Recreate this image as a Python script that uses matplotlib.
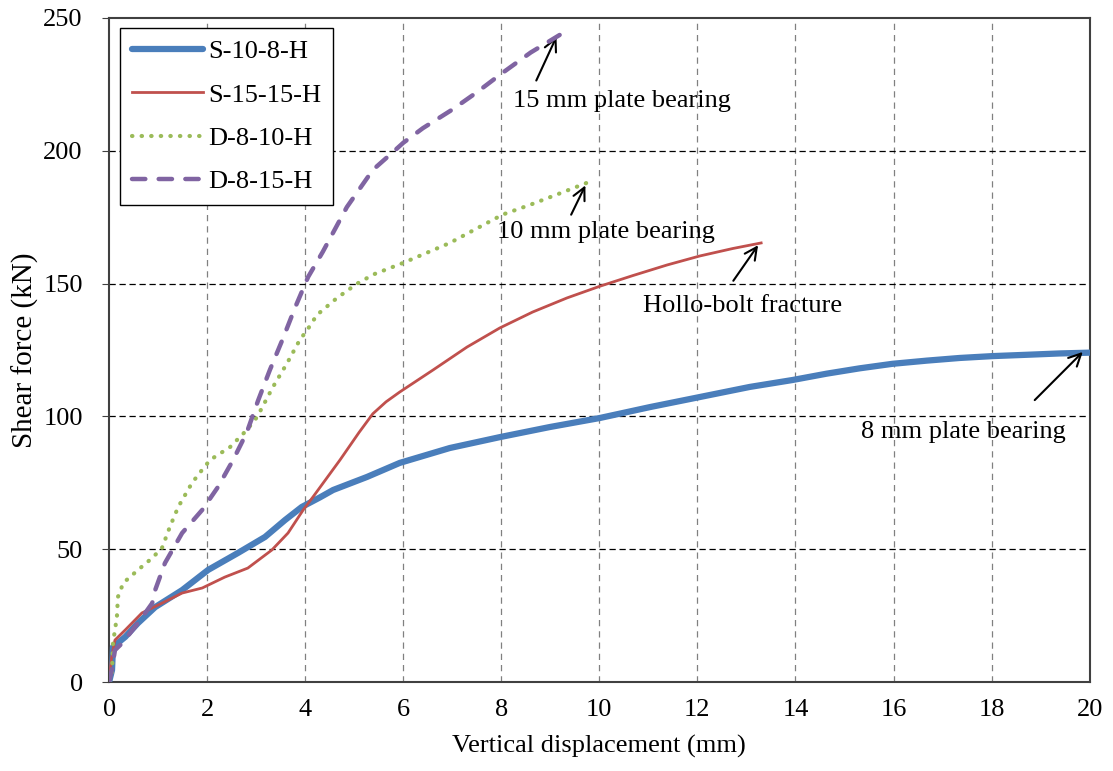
import numpy as np
import matplotlib.pyplot as plt

plt.rcParams['font.family'] = ['Liberation Serif', 'DejaVu Serif']

# load-displacement curves (displacement in mm, shear force in kN)
s10_x = [0, 0.06, 0.08, 0.33, 0.59, 0.94, 1.49, 2.02, 2.63, 3.18, 3.59, 3.93, 4.3,
         4.57, 5.26, 5.93, 6.95, 7.97, 8.99, 10.01, 11.03, 12.05, 13.07, 13.94,
         14.64, 15.31, 15.98, 16.68, 17.35, 18.02, 18.72, 19.39, 20.0]
s10_y = [0, 4.5, 13.2, 17, 22.2, 28.2, 34.6, 42.2, 48.6, 54.6, 61, 65.9, 69.5,
         72.3, 77.2, 82.5, 88.1, 92.2, 96, 99.4, 103.5, 107.3, 111.1, 113.7,
         116.1, 118.1, 119.8, 121, 122, 122.7, 123.2, 123.7, 124]

s15_x = [0, 0.05, 0.12, 0.33, 0.67, 1.08, 1.49, 1.9, 2.36, 2.83, 3.32, 3.65, 3.96,
         4.16, 4.71, 5.1, 5.38, 5.65, 5.93, 6.61, 7.3, 7.97, 8.64, 9.34, 10.01,
         10.68, 11.38, 12.05, 12.72, 13.3]
s15_y = [0, 9, 15.8, 19.6, 26, 29.7, 33.5, 35.4, 39.5, 42.9, 49.7, 56.1, 64.8,
         69.7, 83.6, 94, 101, 105.5, 109.2, 117.5, 126.1, 133.3, 139.3, 144.6, 149,
         153, 157, 160.4, 163.2, 165.3]

d10_x = [0, 0.06, 0.08, 0.16, 0.18, 0.29, 0.59, 0.88, 1.08, 1.24, 1.41, 1.69, 1.86,
         2.06, 2.47, 2.81, 3.02, 3.34, 3.63, 3.89, 4.04, 4.24, 4.65, 5.06, 5.4,
         6.0, 6.95, 8.03, 8.58, 9.2, 9.74]
d10_y = [0, 4, 14.7, 24.5, 32, 37.3, 42.2, 46.7, 50.5, 58.4, 65.9, 74.9, 79,
         83.6, 88.5, 94.9, 99.8, 111, 120, 128.8, 132.5, 138.2, 144.6, 150, 153.5,
         157.8, 165.3, 176, 179.6, 184, 187.9]

d15_x = [0, 0.06, 0.12, 0.27, 0.59, 0.88, 0.94, 1.14, 1.49, 1.9, 2.22, 2.53, 2.81,
         3.04, 3.28, 3.55, 3.79, 4.06, 4.36, 4.85, 5.38, 5.79, 6.0, 6.4, 7.0, 7.5,
         8.0, 8.6, 9.19]
d15_y = [0, 5, 12, 14.7, 22.2, 29.7, 34.6, 44.8, 56.1, 64.8, 73.4, 83.6, 94,
         106, 117.5, 129.5, 140.8, 152.5, 162, 178.8, 192.8, 199.5, 203, 208.5, 215.5, 222,
         229, 237, 243.6]

fig = plt.figure(figsize=(11.13, 7.71), dpi=100)
ax = fig.add_axes([0.098, 0.1154, 0.881, 0.8613])

ax.plot(s10_x, s10_y, color='#4A7EBB', lw=4.5, solid_capstyle='round',
        solid_joinstyle='round', label='S-10-8-H', zorder=3)
ax.plot(s15_x, s15_y, color='#C0504D', lw=2.0, solid_joinstyle='round',
        label='S-15-15-H', zorder=4)
ax.plot(d10_x, d10_y, color='#9BBB59', lw=3.0, linestyle=(0, (0.1, 2.2)),
        dash_capstyle='round', label='D-8-10-H', zorder=4)
ax.plot(d15_x, d15_y, color='#8064A2', lw=3.2, linestyle=(0, (3, 3)),
        dash_capstyle='round', label='D-8-15-H', zorder=4)

ax.set_xlim(0, 20)
ax.set_ylim(0, 250)
ax.set_xticks(np.arange(0, 21, 2))
ax.set_yticks(np.arange(0, 251, 50))

# grid: light vertical, dark horizontal
for xv in range(2, 20, 2):
    ax.axvline(xv, color='#808080', lw=0.9, linestyle=(0, (5, 4)), zorder=1)
for yv in range(50, 250, 50):
    ax.axhline(yv, color='black', lw=0.9, linestyle=(0, (5, 3)), zorder=1)

for sp in ax.spines.values():
    sp.set_color('#404040')
    sp.set_linewidth(1.5)
ax.tick_params(axis='x', length=0, pad=12, labelsize=19)
ax.tick_params(axis='y', length=5, direction='out', pad=14, labelsize=19, color='#404040')

ax.set_xlabel('Vertical displacement (mm)', fontsize=19, labelpad=10)
ax.set_ylabel('Shear force (kN)', fontsize=21, labelpad=3)

# failure mode labels
arrow = dict(arrowstyle='->', color='black', lw=1.5, mutation_scale=22)
ax.annotate('', xy=(9.15, 243.9), xytext=(8.69, 225.5), arrowprops=arrow)
ax.text(10.46, 218.8, '15 mm plate bearing', fontsize=19, ha='center', va='center')
ax.annotate('', xy=(9.74, 187.9), xytext=(9.40, 175), arrowprops=arrow)
ax.text(10.13, 169.4, '10 mm plate bearing', fontsize=19, ha='center', va='center')
ax.annotate('', xy=(13.27, 165.3), xytext=(12.70, 150.2), arrowprops=arrow)
ax.text(12.93, 141.6, 'Hollo-bolt fracture', fontsize=19, ha='center', va='center')
ax.annotate('', xy=(19.9, 125), xytext=(18.84, 105.4), arrowprops=arrow)
ax.text(17.43, 94.1, '8 mm plate bearing', fontsize=19, ha='center', va='center')

leg = ax.legend(loc='upper left', bbox_to_anchor=(0.011, 0.985), borderaxespad=0,
                fontsize=19, handlelength=2.7, labelspacing=0.75, fancybox=False,
                edgecolor='black', framealpha=1, borderpad=0.45, handletextpad=0.2)
leg.get_frame().set_linewidth(1.0)
leg.set_zorder(5)

fig.savefig('out.png', dpi=100)
